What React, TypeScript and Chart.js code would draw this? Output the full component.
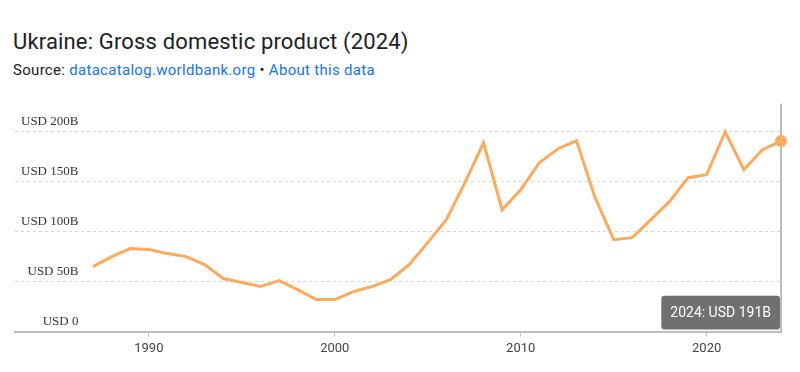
import React, { useEffect, useRef } from "react";
import { Chart, registerables, Tooltip } from "chart.js";

Chart.register(...registerables);

const years: number[] = [
  1987, 1988, 1989, 1990, 1991, 1992, 1993, 1994, 1995, 1996, 1997, 1998, 1999,
  2000, 2001, 2002, 2003, 2004, 2005, 2006, 2007, 2008, 2009, 2010, 2011, 2012,
  2013, 2014, 2015, 2016, 2017, 2018, 2019, 2020, 2021, 2022, 2023, 2024,
];
const gdpBillions: number[] = [
  65, 75, 83, 82, 78, 75, 67, 53, 49, 45, 51, 42, 32,
  32, 40, 45, 52, 67, 89, 112, 149, 189, 122, 142, 169, 183,
  191, 134, 92, 94, 112, 130, 154, 157, 200, 162, 182, 190.7,
];
const yTickValues: number[] = [0, 50, 100, 150, 200];
const xTickValues: number[] = [1990, 2000, 2010, 2020];

const LINE_COLOR = "#FBAB60";

(Tooltip.positioners as any).bottomRight = function () {
  const ca = (this as any).chart.chartArea;
  return { x: ca.right - 4, y: ca.bottom - 2 };
};

const crosshair = {
  id: "crosshair",
  beforeDatasetsDraw(chart: any) {
    const active = chart.getActiveElements();
    if (!active.length) return;
    const el = active[0].element;
    const { ctx, chartArea } = chart;
    ctx.save();
    ctx.strokeStyle = "#bdbdbd";
    ctx.lineWidth = 2;
    ctx.beginPath();
    ctx.moveTo(el.x, chartArea.top);
    ctx.lineTo(el.x, chartArea.bottom);
    ctx.stroke();
    ctx.restore();
  },
};

function GdpChart() {
  const ref = useRef<HTMLCanvasElement | null>(null);
  useEffect(() => {
    if (!ref.current) return;
    const points = years.map((y, i) => ({ x: y, y: gdpBillions[i] }));
    const last = points.length - 1;
    const chart = new Chart(ref.current, {
      type: "line",
      data: {
        datasets: [
          {
            data: points,
            borderColor: LINE_COLOR,
            backgroundColor: LINE_COLOR,
            borderWidth: 3,
            pointRadius: 0,
            pointHoverRadius: 6,
            pointHoverBorderWidth: 0,
            pointHoverBackgroundColor: LINE_COLOR,
            tension: 0,
            clip: false as any,
          },
        ],
      },
      options: {
        animation: false,
        responsive: false,
        events: [],
        layout: { padding: { left: 15, right: 19, top: 10, bottom: 0 } },
        plugins: {
          legend: { display: false },
          title: { display: false },
          tooltip: {
            enabled: true,
            position: "bottomRight" as any,
            xAlign: "right",
            yAlign: "bottom",
            caretSize: 0,
            caretPadding: 0,
            cornerRadius: 3,
            backgroundColor: "#707070",
            displayColors: false,
            padding: { top: 9, bottom: 8, left: 9, right: 9 },
            bodyFont: { family: "Roboto, Arial, sans-serif", size: 14 },
            bodyColor: "#ffffff",
            callbacks: {
              title: () => "",
              label: (item: any) =>
                `${item.raw.x}: USD ${Math.round(item.raw.y)}B`,
            },
          },
        },
        scales: {
          x: {
            type: "linear",
            min: 1982.8,
            max: 2024,
            afterBuildTicks: (s: any) => {
              s.ticks = xTickValues.map((v) => ({ value: v }));
            },
            afterFit: (s: any) => {
              s.height = 40.5;
            },
            grid: {
              drawOnChartArea: false,
              drawTicks: true,
              tickLength: 5,
              color: "#bdbdbd",
              lineWidth: 1,
            },
            border: { display: true, color: "#bdbdbd", width: 2 },
            ticks: {
              color: "#444444",
              font: { family: "Roboto, Arial, sans-serif", size: 13 },
              padding: 4,
              maxRotation: 0,
              autoSkip: false,
              callback: (v: any) => String(v),
            },
          },
          y: {
            type: "linear",
            min: 0,
            max: 228,
            afterBuildTicks: (s: any) => {
              s.ticks = yTickValues.map((v) => ({ value: v }));
            },
            afterFit: (s: any) => {
              s.width = 0;
            },
            grid: {
              drawTicks: false,
              color: "#d6d6d6",
              lineWidth: 1,
            },
            border: { display: false, dash: [3, 3] },
            ticks: {
              mirror: true,
              crossAlign: "far",
              padding: 6,
              labelOffset: -10,
              color: "#333333",
              font: { family: "'Liberation Serif', 'Times New Roman', serif", size: 13 },
              callback: (v: any) => (v === 0 ? "USD 0" : `USD ${v}B`),
            },
          },
        },
      },
      plugins: [crosshair],
    });
    const act = [{ datasetIndex: 0, index: last }];
    chart.setActiveElements(act);
    chart.tooltip!.setActiveElements(act, { x: 0, y: 0 });
    chart.update();
    return () => chart.destroy();
  }, []);
  return (
    <canvas
      ref={ref}
      width={800}
      height={282}
      style={{ position: "absolute", left: 0, top: 90, width: 800, height: 282 }}
    />
  );
}

export default function App() {
  return (
    <div
      style={{
        position: "fixed",
        left: 0,
        top: 0,
        width: 800,
        height: 372,
        background: "#ffffff",
        overflow: "hidden",
      }}
    >
      <div
        style={{
          position: "absolute",
          left: 13,
          top: 30,
          fontFamily: "Roboto, Arial, sans-serif",
          fontSize: 22,
          letterSpacing: "0.16px",
          lineHeight: "24px",
          color: "#202124",
          whiteSpace: "nowrap",
        }}
      >
        Ukraine: Gross domestic product (2024)
      </div>
      <div
        style={{
          position: "absolute",
          left: 13,
          top: 62,
          fontFamily: "Roboto, Arial, sans-serif",
          fontSize: 15,
          letterSpacing: "0.3px",
          lineHeight: "16px",
          color: "#202124",
          whiteSpace: "nowrap",
        }}
      >
        Source: <span style={{ color: "#1a73e8" }}>datacatalog.worldbank.org</span>
        {" • "}
        <span style={{ color: "#1a73e8" }}>About this data</span>
      </div>
      <GdpChart />
    </div>
  );
}
